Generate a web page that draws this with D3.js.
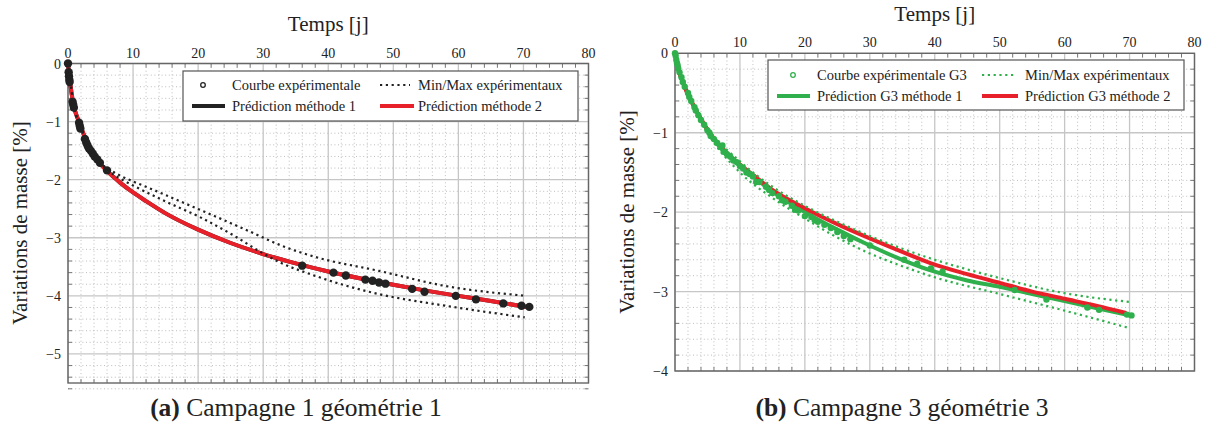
<!DOCTYPE html>
<html><head><meta charset="utf-8">
<script src="https://cdn.jsdelivr.net/npm/d3@7"></script>
<style>
body{margin:0;background:#fff}
svg{display:block}
text{font-family:"Liberation Serif","Times New Roman",serif;fill:#222}
</style></head>
<body><svg id="chart" width="1211" height="426"></svg>
<script>
// ---------- shared tick labels ----------
const xTickValues = [0,10,20,30,40,50,60,70,80];
const xTickLabels = ["0","10","20","30","40","50","60","70","80"];
const yTickValuesA = [0,-1,-2,-3,-4,-5];
const yTickLabelsA = ["0","−1","−2","−3","−4","−5"];
const yTickValuesB = [0,-1,-2,-3,-4];
const yTickLabelsB = ["0","−1","−2","−3","−4"];

// ---------- panel (a) data: [time (j), mass variation (%)] ----------
const expA = [[0,0],[0.1,-0.15],[0.15,-0.22],[0.2,-0.28],[0.25,-0.32],[0.7,-0.66],[0.8,-0.71],[0.9,-0.76],
  [1.7,-1.02],[1.8,-1.07],[1.9,-1.12],[2.6,-1.3],[2.8,-1.36],[3.0,-1.41],[3.2,-1.46],[3.5,-1.5],[3.8,-1.55],
  [4.1,-1.6],[4.5,-1.65],[4.9,-1.71],[6.0,-1.84],
  [36.0,-3.48],[40.8,-3.60],[42.7,-3.65],[45.7,-3.72],[46.8,-3.74],[47.8,-3.77],[48.8,-3.79],[52.9,-3.88],
  [54.8,-3.93],[59.6,-4.00],[62.7,-4.06],[66.9,-4.13],[69.7,-4.17],[70.9,-4.19]];
const maxA = [[0,0],[1,-0.78],[2,-1.1],[3,-1.38],[4,-1.58],[5,-1.72],[6,-1.8],[8,-1.93],[10,-2.03],[12.6,-2.15],
  [17.6,-2.39],[22.8,-2.64],[27.9,-2.89],[32.7,-3.13],[38,-3.33],[47.8,-3.57],[58,-3.83],[70.5,-4.0]];
const minA = [[0,0],[1,-0.78],[2,-1.1],[3,-1.38],[4,-1.58],[5,-1.72],[6,-1.83],[8,-1.98],[10,-2.1],[15.1,-2.38],
  [20.2,-2.64],[25.3,-2.95],[30,-3.27],[32.5,-3.42],[37.6,-3.64],[42,-3.8],[47.8,-3.97],[58,-4.17],[70.2,-4.37]];
const pred1A = [[0,0],[0.1,-0.12],[0.3,-0.3],[0.6,-0.55],[1,-0.78],[1.5,-0.95],[2,-1.1],[3,-1.38],[4,-1.59],[5,-1.73],
  [6,-1.85],[8,-2.05],[10,-2.22],[12,-2.37],[15,-2.58],[20,-2.86],[25,-3.09],[30,-3.28],[35,-3.44],[40,-3.58],
  [45,-3.7],[50,-3.81],[55,-3.91],[60,-4.0],[65,-4.09],[71,-4.2]];
const pred2A = [[0,0],[0.1,-0.12],[0.3,-0.3],[0.6,-0.55],[1,-0.78],[1.5,-0.95],[2,-1.1],[3,-1.38],[4,-1.59],[5,-1.73],
  [6,-1.85],[8,-2.05],[10,-2.22],[12,-2.37],[15,-2.58],[20,-2.86],[25,-3.09],[30,-3.28],[35,-3.44],[40,-3.58],
  [45,-3.7],[50,-3.81],[55,-3.91],[60,-4.0],[65,-4.09],[71,-4.2]];

// ---------- panel (b) data ----------
const expB = [[0,0],[0.1,-0.03],[0.2,-0.08],[0.3,-0.12],[0.4,-0.15],[0.5,-0.19],[0.7,-0.24],[1.0,-0.3],[1.2,-0.36],
  [1.5,-0.42],[2.0,-0.5],[2.2,-0.55],[2.5,-0.6],[3.0,-0.68],[3.2,-0.72],[3.6,-0.78],[4.0,-0.84],[4.5,-0.9],
  [5.0,-0.97],[5.3,-1.0],[5.5,-1.04],[6.0,-1.08],[6.5,-1.13],[7.0,-1.18],[7.3,-1.16],[7.5,-1.24],[8.0,-1.27],
  [8.5,-1.3],[9.0,-1.35],[9.5,-1.37],[10.0,-1.42],[10.5,-1.45],[11,-1.5],[11.5,-1.52],[12,-1.55],[12.5,-1.62],
  [13,-1.62],[14,-1.68],[14.5,-1.72],[15,-1.76],[16,-1.8],[16.5,-1.85],[17,-1.87],[18,-1.92],[18.5,-1.97],
  [19,-1.98],[20,-2.05],[21,-2.06],[21.5,-2.1],[22,-2.12],[23,-2.16],[24,-2.2],[25,-2.25],[26,-2.3],[27,-2.34],
  [30,-2.42],[35.3,-2.6],[37.3,-2.65],[39.4,-2.71],[41.2,-2.75],[52.3,-2.98],[57.2,-3.1],[63.5,-3.2],
  [65.3,-3.23],[69.6,-3.29],[70.3,-3.3]];
const maxB = [[0,0],[1,-0.31],[3,-0.67],[5,-0.94],[10,-1.36],[15,-1.68],[20,-1.92],[25,-2.12],[30,-2.3],
  [35,-2.46],[40,-2.6],[45,-2.72],[50,-2.83],[60,-3.02],[70,-3.13]];
const minB = [[0,0],[1,-0.33],[3,-0.7],[5,-1.0],[10,-1.5],[15,-1.82],[20,-2.08],[25,-2.32],[30,-2.52],
  [35,-2.68],[40,-2.82],[50,-3.03],[60,-3.24],[70,-3.46]];
const pred1B = [[0,0],[0.5,-0.2],[1,-0.32],[2,-0.52],[3,-0.68],[5,-0.97],[7,-1.19],[10,-1.42],[12,-1.55],
  [15,-1.74],[20,-2.0],[25,-2.22],[30,-2.42],[35,-2.6],[40,-2.75],[45,-2.86],[50,-2.94],[55,-3.03],
  [60,-3.12],[65,-3.21],[70,-3.3]];
const pred2B = [[0,0],[0.5,-0.2],[1,-0.32],[2,-0.52],[3,-0.68],[5,-0.96],[7,-1.17],[10,-1.4],[12,-1.53],
  [15,-1.72],[20,-1.95],[25,-2.15],[30,-2.33],[35,-2.5],[40,-2.66],[45,-2.78],[50,-2.89],[55,-3.0],
  [60,-3.09],[65,-3.18],[69.5,-3.27]];

const RED = "#e8202a", GREEN = "#2fb04c", BLACK = "#222";
const svg = d3.select("#chart");

function panel(cfg){
  const x = d3.scaleLinear().domain([0,80]).range(cfg.xr);
  const y = d3.scaleLinear().domain(cfg.yd).range(cfg.yr);
  const g = svg.append("g");
  const [x0,x1] = cfg.xr, [y0,y1] = cfg.yr;
  const xMinor = d3.range(0,80.01,2).filter(v=>v%10!==0);
  const yMinor = d3.range(0,Math.round(-cfg.yd[1]*5)+1).map(i=>-i/5).filter(v=>Math.abs(v-Math.round(v))>1e-6);
  // minor grid
  g.selectAll(".vm").data(xMinor).join("line").attr("x1",d=>x(d)).attr("x2",d=>x(d)).attr("y1",y0).attr("y2",y1)
    .attr("stroke","#b5b5b5").attr("stroke-width",0.9).attr("stroke-dasharray","1,2.6");
  g.selectAll(".hm").data(yMinor).join("line").attr("y1",d=>y(d)).attr("y2",d=>y(d)).attr("x1",x0).attr("x2",x1)
    .attr("stroke","#b5b5b5").attr("stroke-width",0.9).attr("stroke-dasharray","1,2.6");
  // major grid
  g.selectAll(".vM").data(xTickValues).join("line").attr("x1",d=>x(d)).attr("x2",d=>x(d)).attr("y1",y0).attr("y2",y1)
    .attr("stroke","#c6c6c6").attr("stroke-width",1.3);
  g.selectAll(".hM").data(cfg.yTicks).join("line").attr("y1",d=>y(d)).attr("y2",d=>y(d)).attr("x1",x0).attr("x2",x1)
    .attr("stroke","#c6c6c6").attr("stroke-width",1.3);
  // inner tick marks on all sides
  const tk = g.append("g").attr("stroke","#666").attr("stroke-width",0.9);
  xMinor.forEach(v=>{tk.append("line").attr("x1",x(v)).attr("x2",x(v)).attr("y1",y0).attr("y2",y0+4);
                     tk.append("line").attr("x1",x(v)).attr("x2",x(v)).attr("y1",y1).attr("y2",y1-4);});
  yMinor.forEach(v=>{tk.append("line").attr("y1",y(v)).attr("y2",y(v)).attr("x1",x0).attr("x2",x0+4);
                     tk.append("line").attr("y1",y(v)).attr("y2",y(v)).attr("x1",x1).attr("x2",x1-4);});
  // frame
  g.append("rect").attr("x",x0).attr("y",y0).attr("width",x1-x0).attr("height",y1-y0)
    .attr("fill","none").attr("stroke","#666").attr("stroke-width",1.4);
  // tick labels
  g.selectAll(".xl").data(xTickValues).join("text").attr("x",d=>x(d)).attr("y",y0-6)
    .attr("text-anchor","middle").attr("font-size",14).text((d,i)=>xTickLabels[i]);
  g.selectAll(".yl").data(cfg.yTicks).join("text").attr("x",x0-7).attr("y",d=>y(d)+5)
    .attr("text-anchor","end").attr("font-size",14).text((d,i)=>cfg.yLabels[i]);
  // axis titles
  g.append("text").attr("x",x(40)).attr("y",cfg.titleY).attr("text-anchor","middle").attr("font-size",21).text("Temps [j]");
  g.append("text").attr("transform",`translate(${cfg.ylabX},${cfg.ylabY}) rotate(-90)`)
    .attr("text-anchor","middle").attr("font-size",21).text("Variations de masse [%]");
  // curves
  const line = d3.line().x(d=>x(d[0])).y(d=>y(d[1])).curve(d3.curveMonotoneX);
  g.append("path").datum(cfg.pred1).attr("d",line).attr("fill","none").attr("stroke",cfg.c1).attr("stroke-width",4);
  g.append("path").datum(cfg.pred2).attr("d",line).attr("fill","none").attr("stroke",RED).attr("stroke-width",4);
  [cfg.maxD,cfg.minD].forEach(dd=>g.append("path").datum(dd).attr("d",line).attr("fill","none")
    .attr("stroke",cfg.cDot).attr("stroke-width",2.2).attr("stroke-dasharray","2.2,3.6"));
  g.selectAll(".pt").data(cfg.exp).join("circle").attr("cx",d=>x(d[0])).attr("cy",d=>y(d[1]))
    .attr("r",cfg.r).attr("fill",cfg.cPt);
  // legend
  const L = cfg.leg;
  const lg = g.append("g");
  lg.append("rect").attr("x",L.x).attr("y",L.y).attr("width",L.w).attr("height",L.h)
    .attr("fill","#fff").attr("stroke","#555").attr("stroke-width",1.2);
  lg.append("circle").attr("cx",L.mk).attr("cy",L.r1).attr("r",2.3).attr("fill","none").attr("stroke",cfg.cPt).attr("stroke-width",1.3);
  lg.append("line").attr("x1",L.d1).attr("x2",L.d2).attr("y1",L.r1).attr("y2",L.r1)
    .attr("stroke",cfg.cDot).attr("stroke-width",2.2).attr("stroke-dasharray","2.2,3.6");
  lg.append("line").attr("x1",L.l1).attr("x2",L.l2).attr("y1",L.r2).attr("y2",L.r2).attr("stroke",cfg.c1).attr("stroke-width",4);
  lg.append("line").attr("x1",L.d1).attr("x2",L.d2+4).attr("y1",L.r2).attr("y2",L.r2).attr("stroke",RED).attr("stroke-width",4);
  const fs = 14.5;
  lg.append("text").attr("x",L.t1).attr("y",L.r1+5).attr("font-size",fs).text(L.labels[0]);
  lg.append("text").attr("x",L.t2).attr("y",L.r1+5).attr("font-size",fs).text(L.labels[1]);
  lg.append("text").attr("x",L.t1).attr("y",L.r2+5).attr("font-size",fs).text(L.labels[2]);
  lg.append("text").attr("x",L.t2).attr("y",L.r2+5).attr("font-size",fs).text(L.labels[3]);
  // caption
  const cap = g.append("text").attr("x",cfg.capX).attr("y",416).attr("text-anchor","middle").attr("font-size",25.5);
  cap.append("tspan").attr("font-weight","bold").text(cfg.cap[0]);
  cap.append("tspan").text(cfg.cap[1]);
}

panel({xr:[68,588.5], yd:[0,-5.5], yr:[63.5,383], yTicks:yTickValuesA, yLabels:yTickLabelsA,
  titleY:31, ylabX:27, ylabY:223,
  exp:expA, maxD:maxA, minD:minA, pred1:pred1A, pred2:pred2A, c1:BLACK, cDot:BLACK, cPt:BLACK, r:4.2,
  leg:{x:183,y:71,w:395,h:50,r1:85,r2:106,mk:203,t1:232,d1:380,d2:410,l1:192,l2:225,t2:418,
    labels:["Courbe expérimentale","Min/Max expérimentaux","Prédiction méthode 1","Prédiction méthode 2"]},
  capX:296, cap:["(a)"," Campagne 1 géométrie 1"]});

panel({xr:[675,1194.5], yd:[0,-4], yr:[53.3,371], yTicks:yTickValuesB, yLabels:yTickLabelsB,
  titleY:21, ylabX:634, ylabY:212,
  exp:expB, maxD:maxB, minD:minB, pred1:pred1B, pred2:pred2B, c1:GREEN, cDot:GREEN, cPt:GREEN, r:3.2,
  leg:{x:768,y:60,w:416,h:50,r1:75,r2:96,mk:793,t1:817,d1:982,d2:1014,l1:777,l2:810,t2:1025,
    labels:["Courbe expérimentale G3","Min/Max expérimentaux","Prédiction G3 méthode 1","Prédiction G3 méthode 2"]},
  capX:902, cap:["(b)"," Campagne 3 géométrie 3"]});
</script></body></html>
